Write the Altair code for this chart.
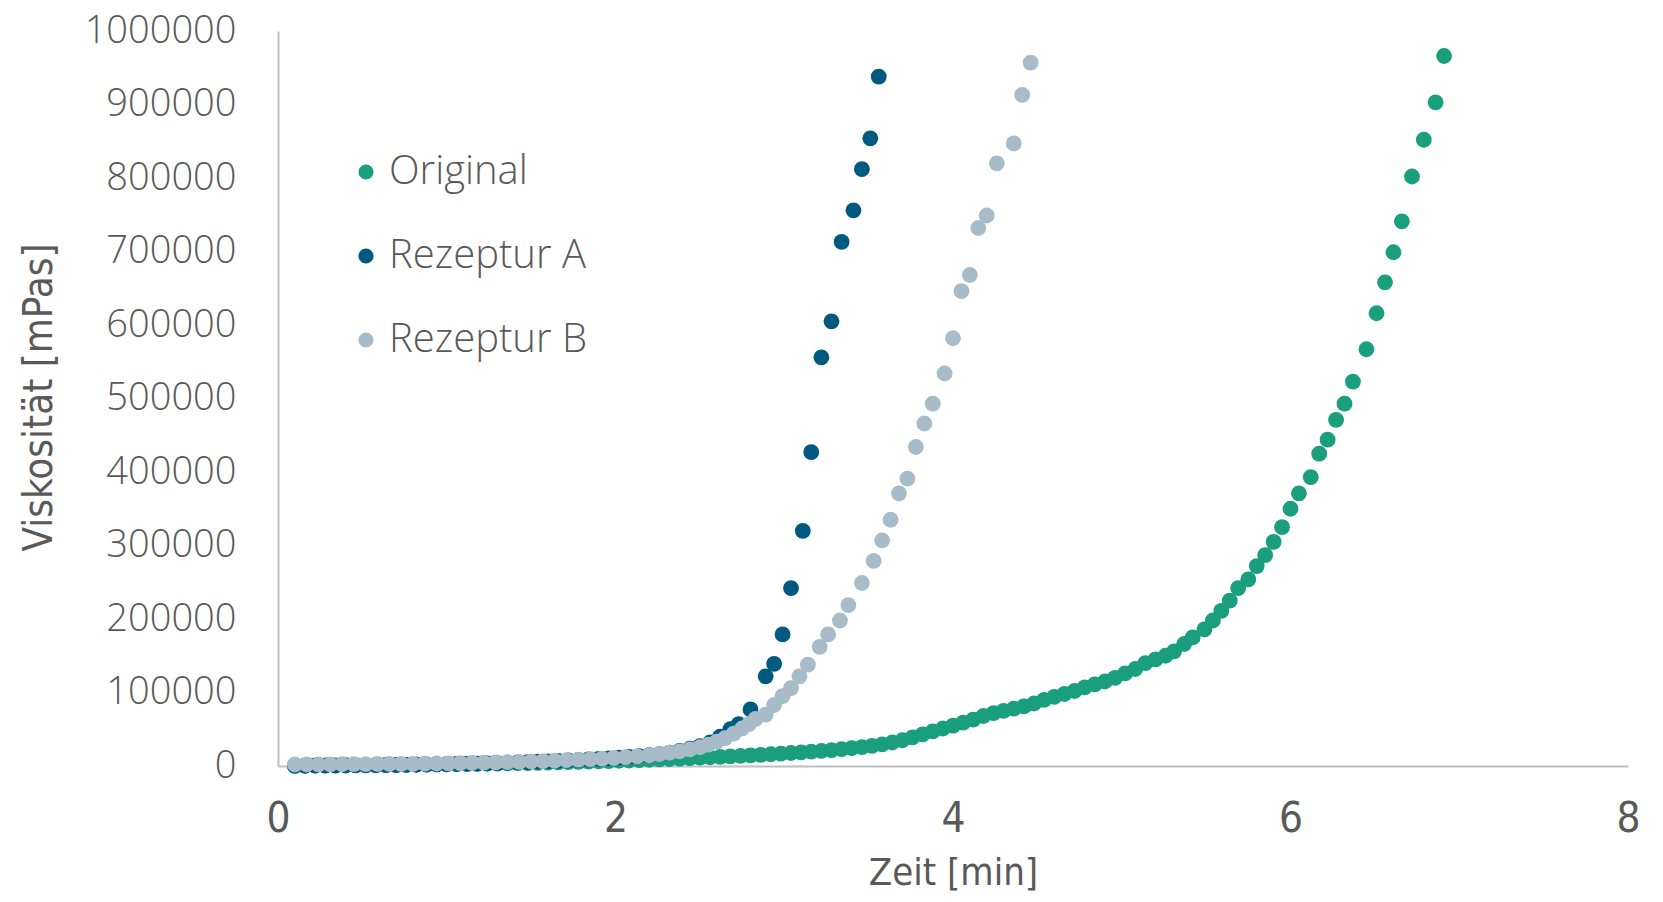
import altair as alt
import pandas as pd

# Zeit [min] and Viskosität [x1000 mPas]
orig_x = [0.10, 0.16, 0.22, 0.28, 0.34, 0.40, 0.46, 0.52, 0.58, 0.64, 0.70, 0.76, 0.82, 0.88, 0.94,
          1.00, 1.06, 1.12, 1.18, 1.24, 1.30, 1.36, 1.42, 1.48, 1.54, 1.60, 1.66, 1.72, 1.78, 1.84,
          1.90, 1.96, 2.02, 2.08, 2.14, 2.20, 2.26, 2.32, 2.38, 2.44, 2.50, 2.56, 2.62, 2.68, 2.74,
          2.80, 2.86, 2.92, 2.98, 3.04, 3.10, 3.16, 3.22, 3.28, 3.34, 3.40, 3.46, 3.52, 3.58, 3.64,
          3.70, 3.76, 3.82, 3.88, 3.94, 4.00, 4.06, 4.12, 4.18, 4.24, 4.30, 4.36, 4.42, 4.48, 4.54,
          4.60, 4.66, 4.72, 4.78, 4.84, 4.90, 4.96, 5.02, 5.08, 5.14, 5.20, 5.26, 5.31, 5.37, 5.42,
          5.49, 5.54, 5.59, 5.64, 5.69, 5.75, 5.80, 5.85, 5.90, 5.95, 6.00, 6.05, 6.12, 6.17, 6.22,
          6.27, 6.32, 6.37, 6.45, 6.51, 6.56, 6.61, 6.66, 6.72, 6.79, 6.86, 6.91]
orig_y = [0.5, 0.6, 0.7, 0.8, 0.9, 1.0, 1.1, 1.2, 1.3, 1.4, 1.5, 1.6, 1.8, 2.0, 2.1,
          2.3, 2.5, 2.7, 2.9, 3.1, 3.3, 3.5, 3.8, 4.0, 4.3, 4.6, 4.9, 5.2, 5.5, 5.9,
          6.3, 6.7, 7.1, 7.5, 8.0, 8.5, 9.0, 9.5, 10.1, 10.7, 11.3, 11.9, 12.5, 13.1, 13.8,
          14.5, 15.2, 16.0, 16.8, 17.7, 18.6, 19.6, 20.6, 21.7, 22.9, 24.2, 25.6, 27.5, 29.5, 32.0,
          35.0, 39.0, 43.0, 47.0, 51.0, 55.0, 59.0, 63.0, 68.0, 72.0, 75.0, 78.0, 81.0, 85.0, 90.0,
          94.0, 98.0, 102.0, 107.0, 111.0, 115.0, 120.0, 126.0, 132.0, 140.0, 145.0, 150.0, 156.0, 166.0, 175.0,
          186.0, 198.0, 211.0, 225.0, 242.0, 254.0, 272.0, 287.0, 305.0, 325.0, 350.0, 371.0, 393.0, 425.0, 444.0,
          471.0, 493.0, 523.0, 567.0, 616.0, 658.0, 699.0, 741.0, 802.0, 852.0, 903.0, 966.0]

a_x = [0.10, 0.16, 0.22, 0.28, 0.34, 0.40, 0.46, 0.52, 0.58, 0.64, 0.70, 0.76, 0.82, 0.88, 0.94,
       1.00, 1.06, 1.12, 1.18, 1.24, 1.30, 1.36, 1.42, 1.48, 1.54, 1.60, 1.66, 1.72, 1.78, 1.84,
       1.90, 1.96, 2.02, 2.08, 2.14, 2.20, 2.26, 2.32, 2.38, 2.44, 2.50, 2.56, 2.62, 2.68, 2.73,
       2.80, 2.89, 2.94, 2.99, 3.04, 3.11, 3.16, 3.22, 3.28, 3.34, 3.41, 3.46, 3.51, 3.56]
a_y = [0.2, 0.3, 0.4, 0.5, 0.6, 0.7, 0.8, 0.9, 1.0, 1.1, 1.3, 1.5, 1.7, 1.9, 2.1,
       2.4, 2.7, 3.0, 3.3, 3.6, 4.0, 4.4, 4.8, 5.3, 5.8, 6.3, 6.9, 7.5, 8.2, 8.9,
       9.7, 10.5, 11.4, 12.4, 13.5, 14.7, 16.2, 18.0, 20.5, 23.5, 27.0, 32.0, 40.0, 50.0, 57.0,
       77.0, 122.0, 139.0, 179.0, 242.0, 320.0, 427.0, 556.0, 605.0, 713.0, 756.0, 812.0, 854.0, 938.0]

b_x = [0.10, 0.17, 0.24, 0.31, 0.38, 0.45, 0.52, 0.59, 0.66, 0.73, 0.80, 0.87, 0.94, 1.01, 1.08,
       1.15, 1.22, 1.29, 1.36, 1.43, 1.50, 1.57, 1.64, 1.71, 1.78, 1.85, 1.92, 1.99, 2.06, 2.13,
       2.20, 2.26, 2.32, 2.38, 2.44, 2.50, 2.55, 2.60, 2.65, 2.70, 2.75, 2.79, 2.83, 2.89, 2.94,
       2.99, 3.04, 3.09, 3.14, 3.21, 3.26, 3.33, 3.38, 3.46, 3.53, 3.58, 3.63, 3.68, 3.73, 3.78,
       3.83, 3.88, 3.95, 4.00, 4.05, 4.10, 4.15, 4.20, 4.26, 4.36, 4.41, 4.46]
b_y = [2.0, 2.1, 2.2, 2.3, 2.4, 2.5, 2.6, 2.7, 2.8, 2.9, 3.0, 3.2, 3.4, 3.6, 3.9,
       4.2, 4.5, 4.9, 5.3, 5.7, 6.2, 6.7, 7.3, 7.9, 8.6, 9.3, 10.1, 11.0, 12.0, 13.2,
       14.6, 16.2, 18.0, 20.0, 22.5, 25.5, 29.0, 33.0, 38.0, 44.0, 51.0, 57.0, 64.0, 70.0, 83.0,
       95.0, 106.0, 122.0, 138.0, 162.0, 179.0, 198.0, 219.0, 249.0, 279.0, 307.0, 335.0, 371.0, 391.0, 434.0,
       466.0, 493.0, 534.0, 582.0, 646.0, 668.0, 732.0, 749.0, 820.0, 847.0, 913.0, 957.0]

series = ["Original", "Rezeptur A", "Rezeptur B"]
colors = ["#199e7e", "#005a80", "#a7bbc8"]
x_ticks = [0, 2, 4, 6, 8]
y_ticks = [0, 100000, 200000, 300000, 400000, 500000, 600000, 700000, 800000, 900000, 1000000]

rows = []
for name, xs, ys in [(series[0], orig_x, orig_y), (series[1], a_x, a_y), (series[2], b_x, b_y)]:
    for xv, yv in zip(xs, ys):
        rows.append({"Serie": name, "Zeit": xv, "Visk": yv * 1000})
df = pd.DataFrame(rows)
df["ord"] = range(len(df))

label_font = "Open Sans"
narrow_font = "Liberation Sans Narrow, DejaVu Sans Condensed, Roboto Condensed, Open Sans"
grey = "#595959"

chart = alt.Chart(df).mark_circle(size=250, opacity=1).encode(
    x=alt.X("Zeit:Q",
            scale=alt.Scale(domain=[0, 8], nice=False),
            axis=alt.Axis(values=x_ticks, title="Zeit [min]", grid=False, ticks=False,
                          domainColor="#bfbfbf", domainWidth=2, labelFlush=False,
                          labelFont=narrow_font, labelFontSize=42, labelColor=grey,
                          labelFontWeight=300, labelPadding=32,
                          titleFont=narrow_font, titleFontSize=38, titleColor=grey,
                          titleFontWeight=300, titleBaseline="middle",
                          titleX=675, titleY=107)),
    y=alt.Y("Visk:Q",
            scale=alt.Scale(domain=[0, 1000000], nice=False),
            axis=alt.Axis(values=y_ticks, format="d", title="Viskosität [mPas]", grid=False,
                          ticks=False, domainColor="#bfbfbf", domainWidth=2,
                          labelFont=label_font, labelFontSize=38, labelColor=grey,
                          labelFontWeight=300, labelPadding=42,
                          titleFont=narrow_font, titleFontSize=40, titleColor=grey,
                          titleFontWeight=300, titleBaseline="middle",
                          titleAngle=270, titleAlign="center",
                          titleX=-239, titleY=366)),
    color=alt.Color("Serie:N",
                    scale=alt.Scale(domain=series, range=colors),
                    legend=alt.Legend(title=None, orient="none", legendX=68, legendY=121,
                                      padding=0, symbolType="circle", symbolSize=230,
                                      symbolStrokeWidth=0, labelFont=label_font,
                                      labelFontSize=40, labelFontWeight=300,
                                      labelColor=grey, labelOffset=3, labelLimit=0,
                                      rowPadding=44)),
    order=alt.Order("ord:Q"),
).properties(
    width=1350, height=735,
    autosize=alt.AutoSizeParams(type="none"),
    padding={"left": 270, "top": 23, "right": 20, "bottom": 128},
).configure_view(stroke=None)

chart.save("out.html", embed_options={"renderer": "svg", "actions": False})
